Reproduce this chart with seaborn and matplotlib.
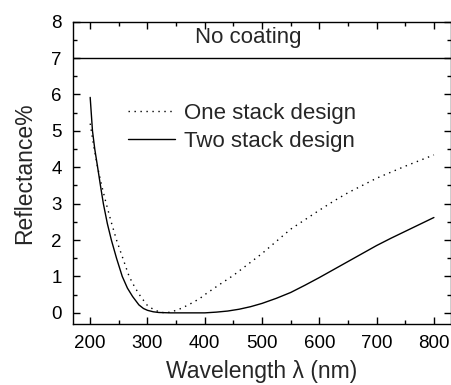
import numpy as np
import pandas as pd
import matplotlib
matplotlib.use("Agg")
import matplotlib.pyplot as plt
import seaborn as sns
from matplotlib.ticker import MultipleLocator

# --- data ---
two_wl = [200, 204, 208, 213, 218, 223, 230, 237, 246, 256, 265, 274, 285, 293,
          300, 310, 320, 340, 360, 380, 400, 420, 440, 460, 480, 500, 525, 550,
          575, 600, 625, 650, 675, 700, 725, 750, 775, 800]
two_R = [5.92, 5.00, 4.50, 4.00, 3.49, 3.00, 2.45, 2.00, 1.50, 1.00, 0.68, 0.45,
         0.22, 0.12, 0.07, 0.03, 0.01, 0.00, 0.00, 0.00, 0.00, 0.02, 0.05, 0.10,
         0.17, 0.26, 0.40, 0.56, 0.76, 0.97, 1.19, 1.41, 1.63, 1.85, 2.05, 2.24,
         2.43, 2.62]

one_wl = [200, 206, 213, 220, 228, 237, 246, 257, 268, 278, 288, 300, 310, 320,
          330, 340, 350, 360, 375, 391, 400, 425, 450, 475, 500, 532, 550, 575,
          600, 625, 650, 700, 750, 800]
one_R = [5.20, 4.60, 4.00, 3.50, 3.00, 2.48, 2.00, 1.50, 1.00, 0.70, 0.45, 0.20,
         0.10, 0.03, 0.00, 0.02, 0.07, 0.13, 0.25, 0.39, 0.50, 0.77, 1.03, 1.33,
         1.63, 2.06, 2.30, 2.56, 2.82, 3.07, 3.30, 3.70, 4.03, 4.34]

no_coating = 7.0
labels = ["One stack design", "Two stack design"]

sns.set_style("ticks")
plt.rcParams["font.family"] = ["Liberation Sans", "DejaVu Sans"]

fig = plt.figure(figsize=(4.52, 3.85), dpi=100)
ax = fig.add_axes([0.1615, 0.159, 0.998 - 0.1615, 0.9437 - 0.159])

df1 = pd.DataFrame({"wl": one_wl, "R": one_R})
df2 = pd.DataFrame({"wl": two_wl, "R": two_R})

sns.lineplot(data=df1, x="wl", y="R", ax=ax, color="black", lw=1.0,
             linestyle=(0, (1, 3.3)), label=labels[0])
sns.lineplot(data=df2, x="wl", y="R", ax=ax, color="black", lw=1.0,
             label=labels[1])
ax.axhline(no_coating, color="black", lw=1.0)
ax.text(476, 7.56, "No coating", ha="center", va="center", fontsize=16)

ax.set_xlim(170, 830)
ax.set_ylim(-0.3, 8)
ax.xaxis.set_major_locator(MultipleLocator(100))
ax.xaxis.set_minor_locator(MultipleLocator(50))
ax.yaxis.set_major_locator(MultipleLocator(1))
ax.yaxis.set_minor_locator(MultipleLocator(0.5))
ax.tick_params(which="both", direction="in", top=True, right=True,
               labelsize=13.5, pad=8, color="black", labelcolor="black")
ax.tick_params(which="major", length=5, width=1.0)
ax.tick_params(which="minor", length=3, width=1.0)
for s in ax.spines.values():
    s.set_linewidth(1.0)
    s.set_color("black")

ax.set_xlabel("Wavelength λ (nm)", fontsize=16.5, labelpad=6)
ax.set_ylabel("Reflectance%", fontsize=16.5, labelpad=11)

leg = ax.legend(loc="upper left", bbox_to_anchor=(0.122, 0.76), frameon=False,
                fontsize=16, handlelength=2.1, handletextpad=0.4,
                labelspacing=0.3, borderaxespad=0)

fig.savefig("out.png", dpi=100)
